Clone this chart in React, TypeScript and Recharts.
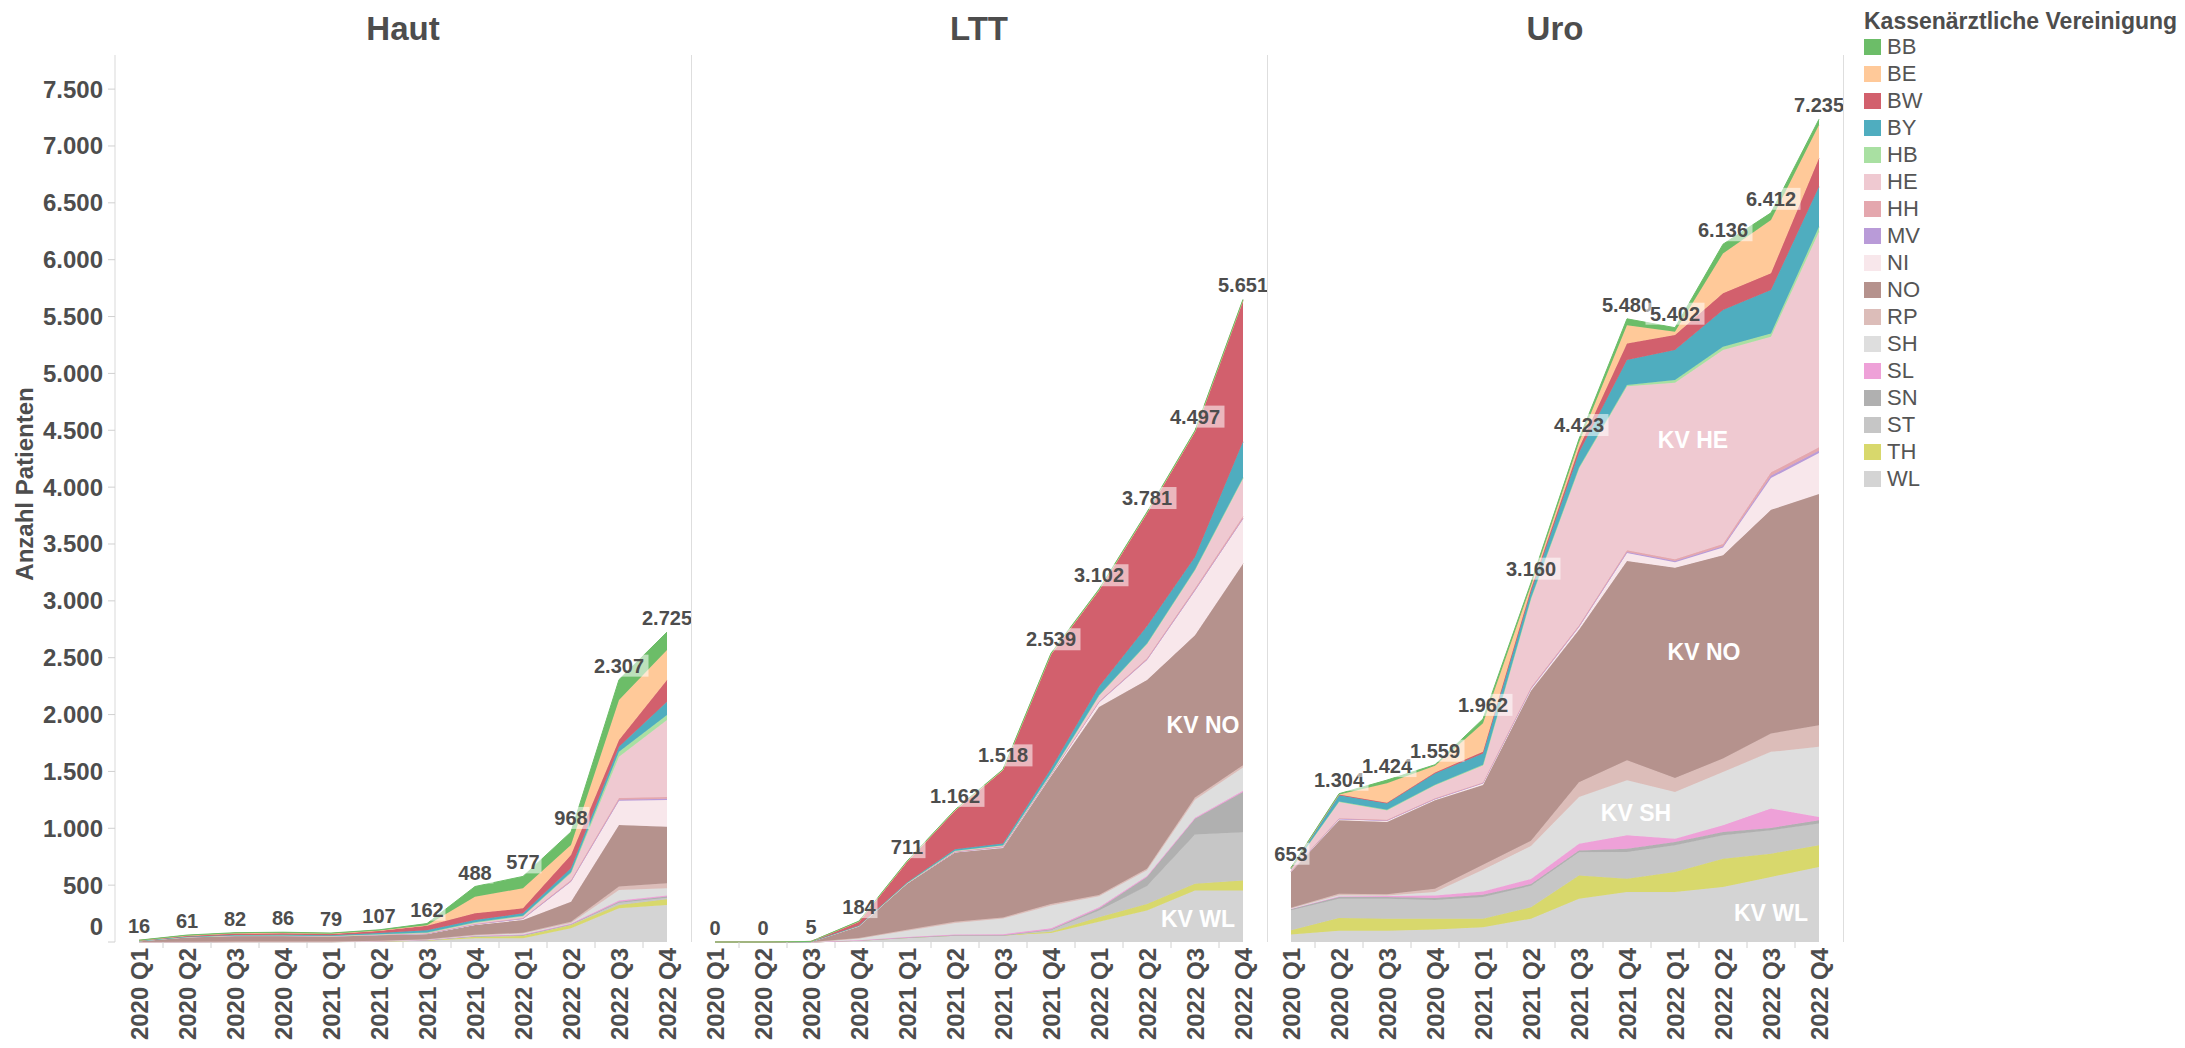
import React from 'react';
import { AreaChart, Area, XAxis, YAxis, LabelList, ReferenceDot } from 'recharts';

const quarters = [
  '2020 Q1', '2020 Q2', '2020 Q3', '2020 Q4',
  '2021 Q1', '2021 Q2', '2021 Q3', '2021 Q4',
  '2022 Q1', '2022 Q2', '2022 Q3', '2022 Q4',
];

// legend order, top of the stack first
const regions = ['BB', 'BE', 'BW', 'BY', 'HB', 'HE', 'HH', 'MV', 'NI', 'NO', 'RP', 'SH', 'SL', 'SN', 'ST', 'TH', 'WL'];
const regionColors = [
  '#6cbd68', '#ffc999', '#d2606d', '#4fadbf', '#a9e0a2', '#efc9d1', '#e4a7ae', '#b99bd8', '#f8e7eb',
  '#b5928d', '#dcbdb9', '#dedede', '#eea1d8', '#b0b0b0', '#c6c6c6', '#d8d86c', '#d4d4d4',
];

const yTicks = [0, 500, 1000, 1500, 2000, 2500, 3000, 3500, 4000, 4500, 5000, 5500, 6000, 6500, 7000, 7500];

const hautTotals = [16, 61, 82, 86, 79, 107, 162, 488, 577, 968, 2307, 2725];
const lttTotals = [0, 0, 5, 184, 711, 1162, 1518, 2539, 3102, 3781, 4497, 5651];
const uroTotals = [653, 1304, 1424, 1559, 1962, 3160, 4423, 5480, 5402, 6136, 6412, 7235];

const hautValues: Record<string, number[]> = {
  WL: [0, 1, 2, 2, 2, 5, 10, 32, 32, 120, 296, 325],
  TH: [0, 0, 1, 1, 1, 2, 6, 15, 21, 29, 29, 50],
  ST: [0, 0, 0, 0, 0, 1, 2, 3, 5, 5, 20, 15],
  SN: [0, 0, 0, 0, 0, 1, 1, 2, 3, 3, 10, 10],
  SL: [0, 0, 0, 0, 0, 0, 1, 3, 5, 5, 10, 10],
  SH: [0, 1, 1, 1, 1, 2, 3, 5, 10, 5, 92, 62],
  RP: [0, 1, 1, 1, 1, 1, 2, 4, 5, 10, 31, 44],
  NO: [10, 40, 50, 50, 45, 50, 45, 85, 112, 177, 541, 498],
  NI: [0, 1, 1, 1, 1, 2, 3, 5, 10, 176, 213, 235],
  MV: [0, 0, 0, 0, 0, 0, 1, 2, 3, 5, 10, 10],
  HH: [0, 0, 1, 1, 1, 1, 2, 3, 5, 10, 15, 15],
  HE: [0, 1, 2, 2, 2, 3, 5, 10, 15, 59, 362, 678],
  HB: [0, 0, 0, 0, 0, 1, 2, 4, 5, 10, 44, 44],
  BY: [0, 2, 3, 4, 5, 10, 20, 20, 21, 34, 44, 117],
  BW: [4, 9, 14, 16, 14, 20, 40, 59, 44, 117, 59, 191],
  BE: [0, 1, 1, 1, 1, 2, 5, 146, 176, 88, 352, 264],
  BB: [2, 4, 5, 6, 5, 6, 14, 90, 105, 115, 179, 157],
};

const lttValues: Record<string, number[]> = {
  WL: [0, 0, 0, 15, 39, 59, 59, 79, 177, 276, 453, 453],
  TH: [0, 0, 0, 0, 0, 0, 0, 11, 40, 59, 59, 87],
  ST: [0, 0, 0, 0, 0, 0, 0, 15, 60, 157, 433, 425],
  SN: [0, 0, 0, 0, 0, 0, 0, 5, 18, 79, 138, 354],
  SL: [0, 0, 0, 0, 5, 8, 10, 10, 10, 10, 10, 10],
  SH: [0, 0, 0, 15, 54, 100, 137, 200, 98, 49, 157, 206],
  RP: [0, 0, 0, 5, 10, 10, 10, 15, 10, 15, 20, 20],
  NO: [0, 0, 3, 105, 404, 610, 611, 1122, 1654, 1658, 1427, 1772],
  NI: [0, 0, 0, 0, 3, 5, 10, 12, 40, 177, 393, 393],
  MV: [0, 0, 0, 0, 0, 0, 0, 2, 4, 5, 5, 5],
  HH: [0, 0, 0, 0, 0, 3, 4, 3, 5, 10, 15, 20],
  HE: [0, 0, 0, 3, 3, 8, 10, 10, 49, 123, 158, 330],
  HB: [0, 0, 0, 0, 0, 0, 0, 2, 4, 8, 8, 8],
  BY: [0, 0, 0, 3, 6, 12, 15, 38, 75, 150, 110, 315],
  BW: [0, 0, 2, 33, 180, 340, 645, 1005, 848, 995, 1101, 1243],
  BE: [0, 0, 0, 2, 3, 3, 3, 4, 4, 4, 4, 4],
  BB: [0, 0, 0, 3, 4, 4, 4, 6, 6, 6, 6, 6],
};

const uroValues: Record<string, number[]> = {
  WL: [65, 100, 100, 110, 130, 205, 380, 440, 440, 484, 572, 660],
  TH: [38, 110, 105, 95, 75, 100, 205, 117, 176, 249, 205, 190],
  ST: [176, 170, 175, 165, 190, 190, 205, 235, 234, 205, 205, 191],
  SN: [14, 16, 16, 17, 20, 15, 15, 29, 30, 30, 21, 29],
  SL: [0, 5, 8, 23, 30, 45, 60, 117, 29, 58, 170, 30],
  SH: [3, 10, 6, 30, 190, 290, 410, 484, 411, 469, 499, 616],
  RP: [5, 14, 10, 29, 45, 45, 130, 176, 123, 118, 161, 190],
  NO: [315, 645, 636, 777, 700, 1320, 1340, 1752, 1847, 1787, 1967, 2034],
  NI: [5, 10, 10, 10, 15, 15, 25, 70, 50, 70, 280, 360],
  MV: [0, 3, 3, 3, 3, 5, 5, 10, 10, 10, 20, 20],
  HH: [2, 5, 5, 5, 5, 10, 10, 15, 15, 20, 30, 30],
  HE: [20, 144, 84, 114, 150, 780, 1378, 1442, 1553, 1705, 1193, 1896],
  HB: [0, 4, 4, 5, 5, 5, 10, 10, 23, 29, 29, 43],
  BY: [5, 55, 55, 98, 100, 55, 130, 220, 264, 323, 381, 352],
  BW: [2, 5, 8, 10, 15, 25, 40, 147, 132, 147, 147, 250],
  BE: [0, 2, 170, 58, 250, 30, 50, 160, 29, 351, 468, 293],
  BB: [3, 6, 29, 10, 39, 25, 30, 56, 36, 81, 64, 51],
};

// in-area captions: [text, quarter, value, dx]
const lttNotes: [string, string, number, number][] = [
  ['KV NO', '2022 Q3', 1908, 8],
  ['KV WL', '2022 Q3', 200, 3],
];
const uroNotes: [string, string, number, number][] = [
  ['KV HE', '2022 Q1', 4414, 18],
  ['KV NO', '2022 Q1', 2550, 29],
  ['KV SH', '2021 Q4', 1134, 9],
  ['KV WL', '2022 Q3', 255, 0],
];

const TEXT = '#4d4d4d';
const FONT = '"Liberation Sans", Arial, sans-serif';
const PLOT_W = 576;
const Y_AXIS_W = 115;
const TOP = 55;
const H = 1048;
const X_AXIS_H = 106;

const fmt = (n: number) => String(n).replace(/\B(?=(\d{3})+(?!\d))/g, '.');

const YTick = (p: any) => {
  const v = p.payload.value;
  return (
    <text x={p.x} y={p.y + (v === 0 ? -15 : 0)} dy="0.35em" textAnchor="end"
      fontSize={24} fontWeight="bold" fill={TEXT}>
      {fmt(v)}
    </text>
  );
};

const XTick = (p: any) => (
  <g>
    {p.index < quarters.length - 1 && (
      <line x1={p.x + 24} x2={p.x + 24} y1={p.y} y2={p.y + 6} stroke="#d0d0d0" />
    )}
    <text transform={`translate(${p.x + 9},${p.y + 6}) rotate(-90)`} textAnchor="end"
      fontSize={24} fontWeight="bold" fill={TEXT}>
      {p.payload.value}
    </text>
  </g>
);

const TotalLabel = (p: any) => {
  const text = fmt(Number(p.value));
  const w = text.length * 11 + 4;
  return (
    <g>
      <rect x={p.x - w / 2} y={p.y - 25} width={w} height={22} fill="#fff" fillOpacity={0.55} />
      <text x={p.x} y={p.y - 7} textAnchor="middle" fontSize={20} fontWeight="bold" fill={TEXT}>
        {text}
      </text>
    </g>
  );
};

interface PanelProps {
  values: Record<string, number[]>;
  totals: number[];
  withAxis?: boolean;
  notes?: [string, string, number, number][];
}

const Panel: React.FC<PanelProps> = ({ values, totals, withAxis = false, notes = [] }) => {
  const data = quarters.map((q, i) => {
    const row: Record<string, number | string> = { q, total: totals[i] };
    regions.forEach((r) => { row[r] = values[r][i]; });
    return row;
  });
  const stackOrder = [...regions].reverse();

  return (
    <AreaChart width={PLOT_W + (withAxis ? Y_AXIS_W : 0)} height={H} data={data}
      margin={{ top: TOP, right: 0, bottom: 0, left: 0 }}>
      <XAxis dataKey="q" height={X_AXIS_H} interval={0} padding={{ left: 24, right: 24 }}
        axisLine={false} tickLine={false} tickSize={0} tickMargin={0} tick={(p: any) => <XTick {...p} />} />
      <YAxis domain={[0, 7800]} ticks={yTicks} hide={!withAxis} width={Y_AXIS_W}
        axisLine={{ stroke: '#d9d9d9' }} tickLine={{ stroke: '#d0d0d0' }} tickSize={7} tickMargin={5}
        tick={(p: any) => <YTick {...p} />} />
      {stackOrder.map((r) => {
        const color = regionColors[regions.indexOf(r)];
        return (
          <Area key={r} type="linear" dataKey={r} stackId="kv" stroke={color} strokeWidth={1}
            fill={color} fillOpacity={1} dot={false} activeDot={false} isAnimationActive={false}>
            {r === 'BB' && <LabelList dataKey="total" content={(p: any) => <TotalLabel {...p} />} />}
          </Area>
        );
      })}
      {notes.map(([text, q, v, dx]) => (
        <ReferenceDot key={text} x={q} y={v} r={0}
          shape={(p: any) => (
            <text x={p.cx + dx} y={p.cy} dy="0.35em" textAnchor="middle" fontSize={23}
              fontWeight="bold" fill="#ffffff">
              {text}
            </text>
          )} />
      ))}
    </AreaChart>
  );
};

const titles = [
  { text: 'Haut', center: Y_AXIS_W + PLOT_W / 2 },
  { text: 'LTT', center: Y_AXIS_W + PLOT_W * 1.5 },
  { text: 'Uro', center: Y_AXIS_W + PLOT_W * 2.5 },
];

export default function App() {
  return (
    <div style={{ position: 'absolute', left: 0, top: 0, width: 2185, height: H, background: '#fff', overflow: 'hidden', fontFamily: FONT }}>
      {titles.map((t) => (
        <div key={t.text} style={{ position: 'absolute', left: t.center - 100, width: 200, top: 10, textAlign: 'center', fontSize: 33, fontWeight: 'bold', color: TEXT }}>
          {t.text}
        </div>
      ))}
      <svg width={40} height={H} style={{ position: 'absolute', left: 0, top: 0 }}>
        <text transform="translate(33,484) rotate(-90)" textAnchor="middle" fontSize={24} fontWeight="bold" fill={TEXT}>
          Anzahl Patienten
        </text>
      </svg>
      <div style={{ position: 'absolute', left: 0, top: 0 }}>
        <Panel values={hautValues} totals={hautTotals} withAxis />
      </div>
      <div style={{ position: 'absolute', left: Y_AXIS_W + PLOT_W, top: 0 }}>
        <Panel values={lttValues} totals={lttTotals} notes={lttNotes} />
      </div>
      <div style={{ position: 'absolute', left: Y_AXIS_W + PLOT_W * 2, top: 0 }}>
        <Panel values={uroValues} totals={uroTotals} notes={uroNotes} />
      </div>
      {[1, 2, 3].map((k) => (
        <div key={k} style={{ position: 'absolute', left: Y_AXIS_W + PLOT_W * k, top: TOP, width: 1, height: H - TOP - X_AXIS_H, background: '#dedede' }} />
      ))}
      <div style={{ position: 'absolute', left: 1864, top: 8, fontSize: 23, fontWeight: 'bold', color: TEXT, whiteSpace: 'nowrap' }}>
        Kassenärztliche Vereinigung
      </div>
      {regions.map((r, i) => (
        <div key={r} style={{ position: 'absolute', left: 1864, top: 47 + i * 27 - 13, height: 26, display: 'flex', alignItems: 'center' }}>
          <div style={{ width: 17, height: 16, background: regionColors[i] }} />
          <span style={{ marginLeft: 6, fontSize: 22, color: '#555' }}>{r}</span>
        </div>
      ))}
    </div>
  );
}
